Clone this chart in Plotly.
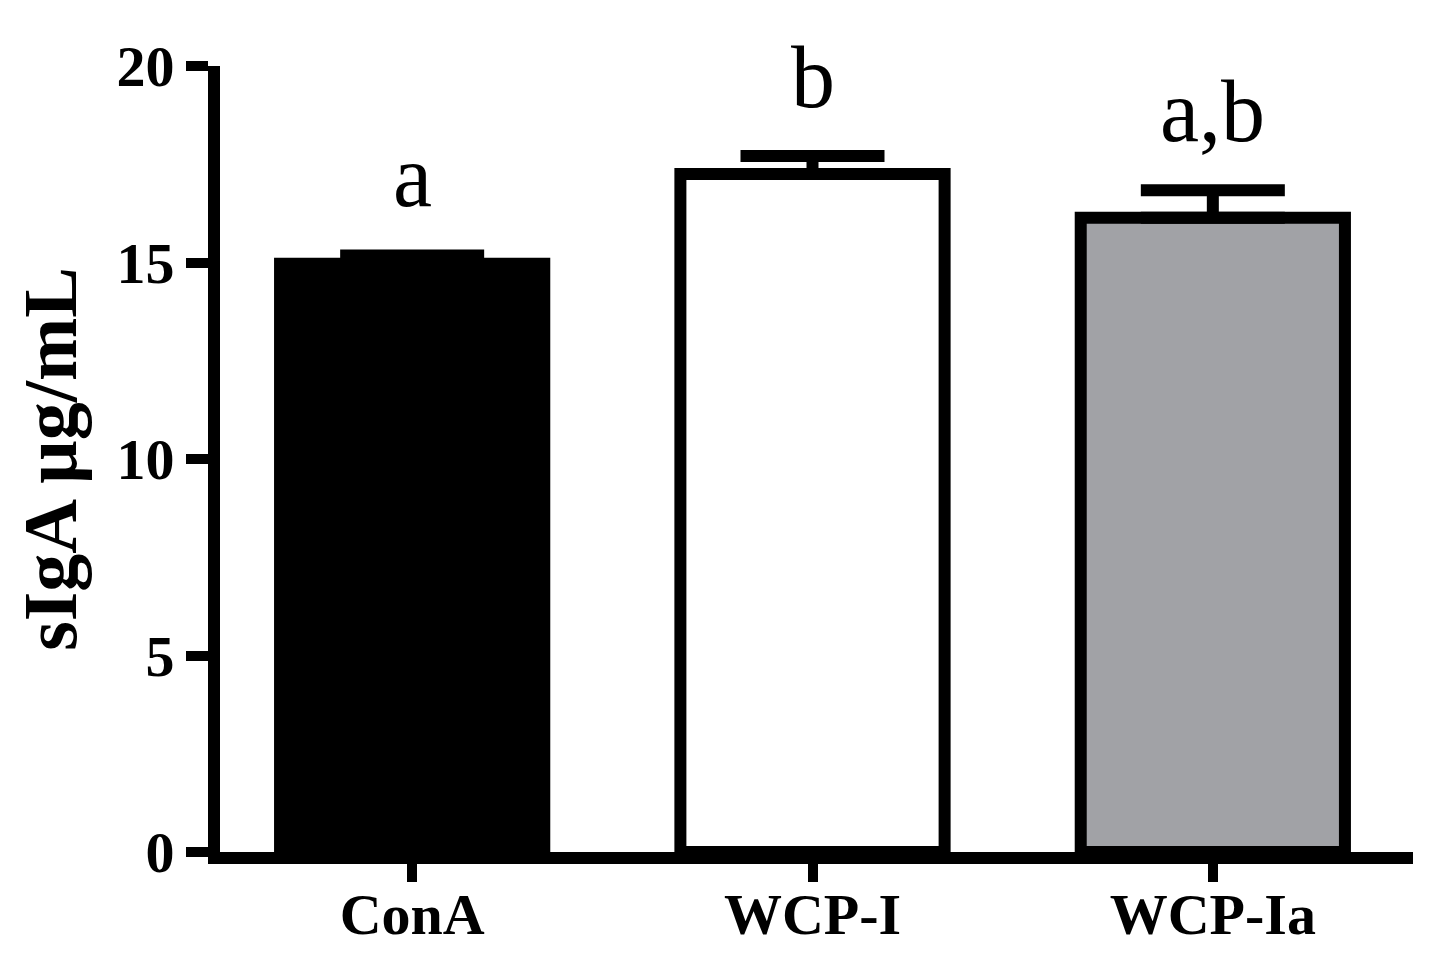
import plotly.graph_objects as go

# sIgA levels per group
groups = ['ConA', 'WCP-I', 'WCP-Ia']
means = [14.97, 17.25, 16.14]
errors = [0.21, 0.46, 0.70]
letters = ['a', 'b', 'a,b']
bar_colors = ['#000000', '#ffffff', '#a1a2a6']

serif = 'Times New Roman, Liberation Serif, serif'

fig = go.Figure()
fig.add_trace(go.Bar(
    x=groups, y=means, width=0.66,
    marker=dict(color=bar_colors, line=dict(color='black', width=12)),
    error_y=dict(type='data', array=errors, arrayminus=[0, 0, 0],
                 symmetric=False, color='black', thickness=12, width=72),
))

# significance letters above the error bars
for g, m, e, t in zip(groups, means, errors, letters):
    fig.add_annotation(x=g, y=m + e, text=t, showarrow=False,
                       yanchor='bottom', yshift=28,
                       font=dict(family=serif, size=88, color='black'))

# page body adds an 8px margin, so the figure is 16px smaller than the window
fig.update_layout(
    width=1424, height=948,
    margin=dict(l=212, r=19, t=58, b=104),
    plot_bgcolor='white', paper_bgcolor='white',
    showlegend=False,
)
fig.update_xaxes(
    range=[-0.48, 2.5], showline=True, linecolor='black', linewidth=12,
    ticks='outside', ticklen=18, tickwidth=10, tickcolor='black',
    ticklabelstandoff=-18,
    tickfont=dict(family=serif, size=58, color='black', weight='bold'),
    showgrid=False, zeroline=False, automargin=False,
)
fig.update_yaxes(
    range=[0, 20], tickvals=[0, 5, 10, 15, 20],
    showline=True, linecolor='black', linewidth=12,
    ticks='outside', ticklen=22, tickwidth=10, tickcolor='black',
    tickfont=dict(family=serif, size=58, color='black', weight='bold'),
    title=dict(text='sIgA µg/mL', standoff=28,
               font=dict(family=serif, size=76, color='black', weight='bold')),
    showgrid=False, zeroline=False, automargin=False,
)

fig.write_html('out.html')
